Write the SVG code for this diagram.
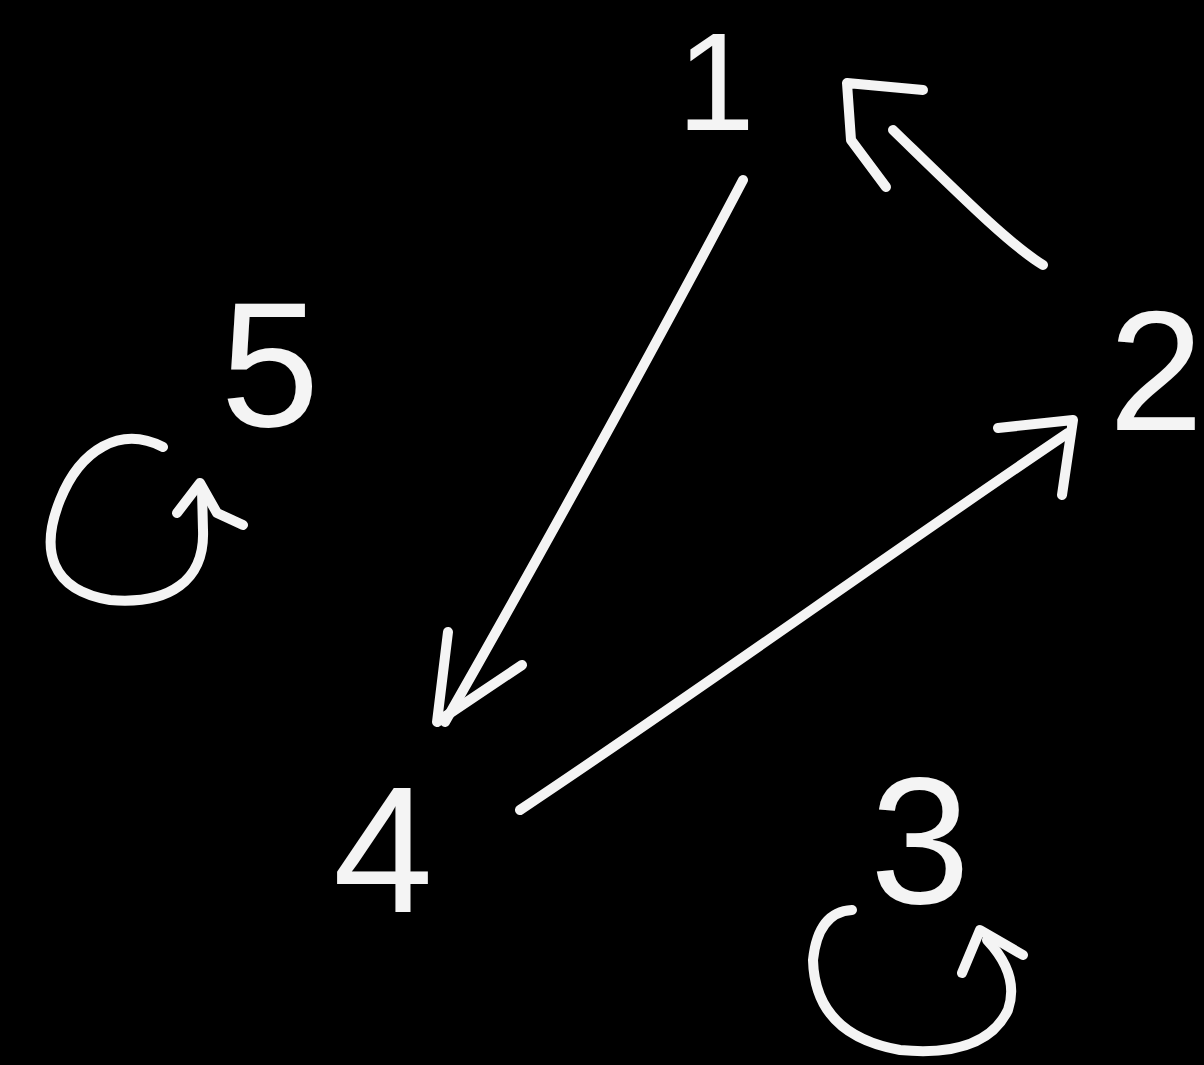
<svg xmlns="http://www.w3.org/2000/svg" width="1204" height="1065" viewBox="0 0 1204 1065">
<style>
.bg{fill:#000}
.lbl{fill:#f4f4f4;font-family:"Liberation Sans","DejaVu Sans",sans-serif;text-anchor:middle}
.ln{fill:none;stroke:#f4f4f4;stroke-width:10;stroke-linecap:round;stroke-linejoin:round}
</style>
<rect class="bg" x="0" y="0" width="1204" height="1065"/>
<g id="node1"><text class="lbl" x="716" y="130" font-size="140">1</text></g>
<g id="node2"><text class="lbl" x="1156" y="430" font-size="170">2</text></g>
<g id="node3"><text class="lbl" x="920" y="903" font-size="180">3</text></g>
<g id="node4"><text class="lbl" x="383" y="912" font-size="180">4</text></g>
<g id="node5"><text class="lbl" x="270" y="426" font-size="178">5</text></g>
<g id="connectors">
<path class="ln" d="M1043,265 C1010,245 960,195 893,130"/>
<path class="ln" d="M923,90 L847,83 L851,140 L886,187"/>
<path class="ln" d="M743,180 C680,300 560,520 445,722"/>
<path class="ln" d="M448,632 L437,722 L522,665"/>
<path class="ln" d="M520,810 C700,690 880,560 1068,433"/>
<path class="ln" d="M998,428 L1073,420 L1062,495"/>
<path class="ln" d="M163,447 C120,425 80,450 60,500 C40,550 50,590 110,600 C170,605 205,580 203,530 L202,490"/>
<path class="ln" d="M177,513 L200,483 L217,513 L243,525"/>
<path class="ln" d="M852,910 Q818,912 813,960 Q815,1035 900,1050 Q985,1058 1008,1010 Q1020,975 987,940"/>
<path class="ln" d="M962,973 L980,930 L1023,955"/>
</g>
</svg>
